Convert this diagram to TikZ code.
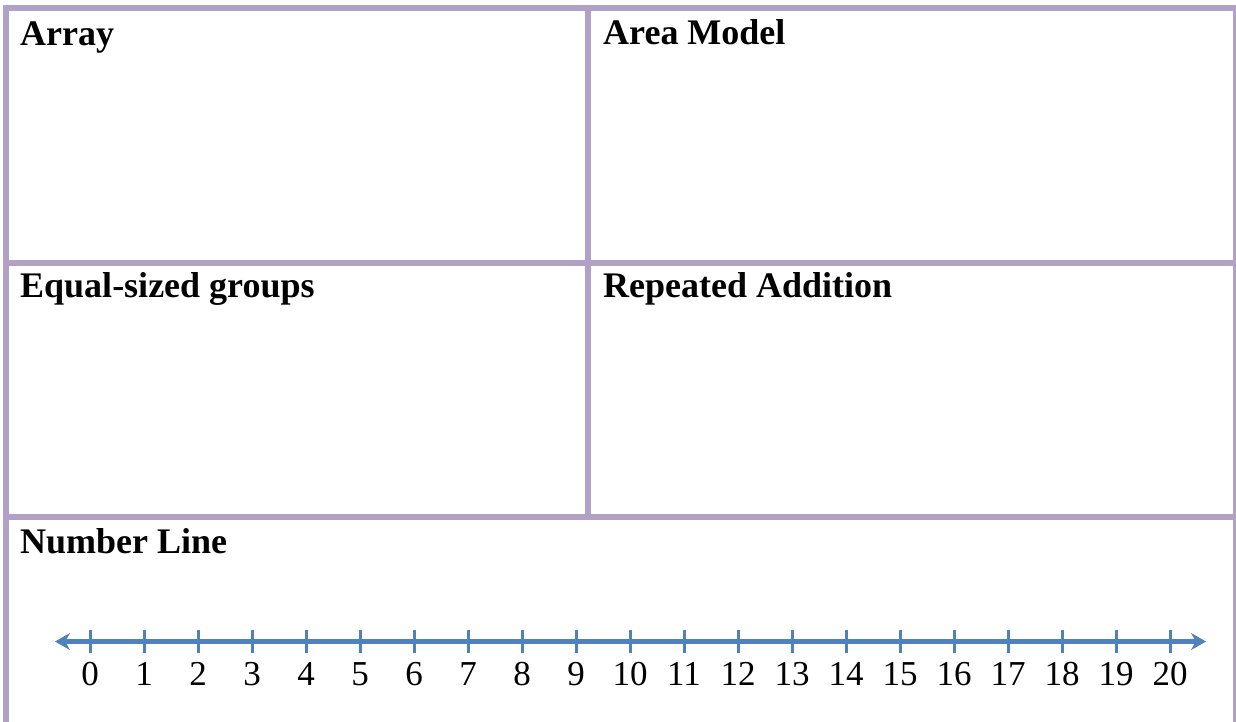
\documentclass[tikz,border=0pt]{standalone}
\usepackage{fontspec}
\setmainfont{Liberation Serif}
\usetikzlibrary{arrows.meta}
\definecolor{framelilac}{HTML}{B2A1C7}
\definecolor{lineblue}{HTML}{4F81BD}
\begin{document}
\begin{tikzpicture}[x=1pt,y=-1pt]
                \useasboundingbox (0,0) rectangle (1236,721);
                \clip (0,0) rectangle (1236,721);

                % frame and cell dividers
                \begin{scope}[draw=framelilac, line width=6pt]
                    \draw (6,8) rectangle (1236,740);
                    \draw (6,263) -- (1236,263);
                    \draw (6,517) -- (1236,517);
                    \draw (588,8) -- (588,517);
                \end{scope}

                \begin{scope}[every node/.style={anchor=base west,inner sep=0pt,
                            font=\fontsize{36}{40}\selectfont\bfseries}]
                    \node (array) at (20,45) {Array};
                    \node (area) at (603,44) {Area Model};
                    \node (groups) at (20,297) {Equal-sized groups};
                    \node (addition) at (603,297) {Repeated Addition};
                    \node (numline) at (20,553) {Number Line};
                \end{scope}

                % number line
                \coordinate (left) at (55,641.5);
                \coordinate (right) at (1206,641.5);
                \draw [lineblue, line width=5pt, {Stealth[length=15pt,width=17pt]}-{Stealth[length=15pt,width=17pt]}] (left) -- (right);
                \foreach \i in {0,...,20} {
                    \coordinate (t\i) at (90+54*\i,629.5);
                    \coordinate (b\i) at (90+54*\i,652.5);
                    \draw [lineblue, line width=3pt] (t\i) -- (b\i);
                    \node [anchor=base, inner sep=0pt, font=\fontsize{35}{40}\selectfont] (n\i) at (90+54*\i,685.5) {\i};
                }
            \end{tikzpicture}
\end{document}
